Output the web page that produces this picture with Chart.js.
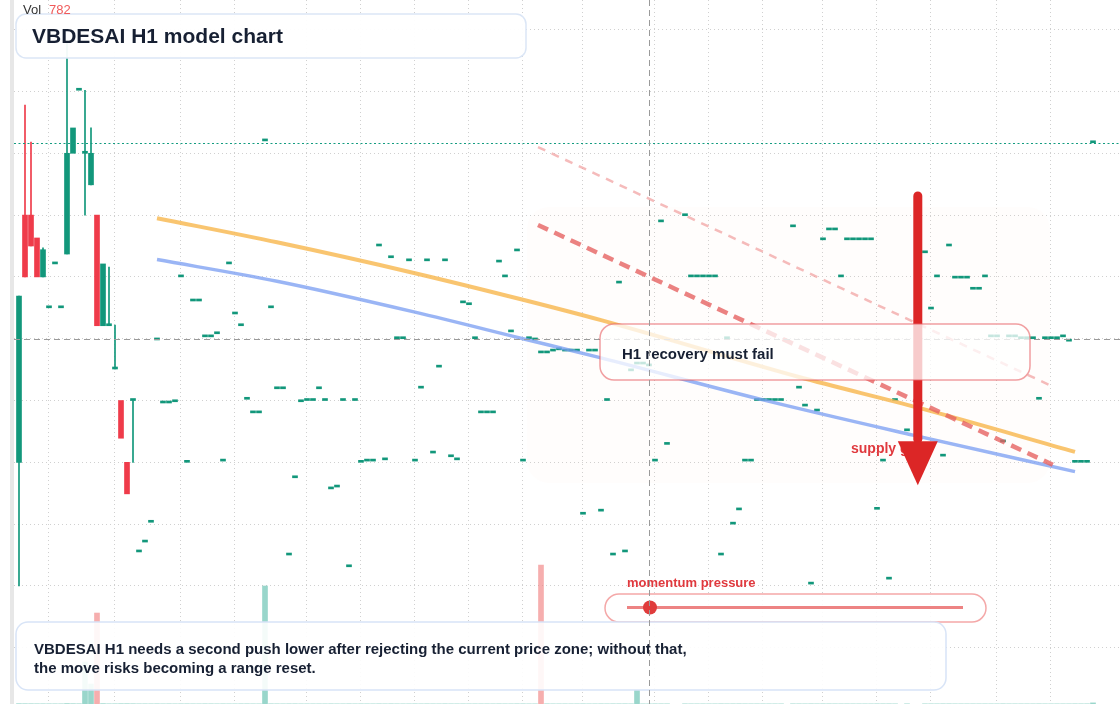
<!DOCTYPE html>
<html lang="en">
<head>
<meta charset="UTF-8">
<title>VBDESAI H1 model chart</title>
<script src="https://cdn.jsdelivr.net/npm/chart.js"></script>
<style>
    html, body { margin: 0; padding: 0; background: #ffffff; }
    #wrap { width: 1120px; height: 704px; position: relative; overflow: hidden; }
</style>
</head>
<body>
<div id="wrap"><canvas id="chart" width="1120" height="704"></canvas></div>

<script>
    // ---- data (one H1 bar per index) ----
    const closes = [
        50.69, 51.00, 51.50, 51.00, 51.44, 50.50, 51.21, 50.50, 53.00, 53.41,
        54.02, 53.00, 53.00, 50.21, 51.21, 50.21, 49.51, 48.39, 47.49, 49.00,
        46.55, 46.71, 47.03, 49.98, 48.96, 48.96, 48.98, 51.00, 48.00, 50.61,
        50.61, 50.03, 50.03, 50.08, 48.02, 51.21, 50.40, 50.21, 49.02, 48.80,
        48.80, 53.20, 50.50, 49.19, 49.19, 46.50, 47.75, 48.98, 49.00, 49.00,
        49.19, 49.00, 47.57, 47.60, 49.00, 46.31, 49.00, 48.00, 48.02, 48.02,
        51.50, 48.04, 51.31, 50.00, 50.00, 51.26, 48.02, 49.20, 51.26, 48.15,
        49.54, 51.26, 48.09, 48.04, 50.58, 50.55, 50.00, 48.80, 48.80, 48.80,
        51.24, 51.00, 50.11, 51.42, 48.02, 50.00, 49.98, 49.77, 49.77, 49.80,
        49.82, 49.80, 49.80, 49.80, 47.16, 49.80, 49.80, 47.21, 49.00, 46.50,
        50.90, 46.55, 49.48, 49.59, 49.59, 49.56, 48.02, 51.89, 48.29, null,
        null, 51.99, 51.00, 51.00, 51.00, 51.00, 51.00, 46.50, 50.00, 47.00,
        47.23, 48.02, 48.02, 49.00, 49.00, 49.00, 49.00, 49.00, null, 51.81,
        49.20, 48.91, 46.03, 48.83, 51.60, 51.76, 51.76, 51.00, 51.60, 51.60,
        51.60, 51.60, 51.60, 47.24, 48.02, 46.11, 49.00, null, 48.51, null,
        null, 51.39, 50.48, 51.00, 48.10, 51.50, 50.98, 50.98, 50.98, 50.80,
        50.80, 51.00, 50.03, 50.03, 48.33, 50.03, 50.03, 50.00, 50.00, 50.00,
        49.02, 50.00, 50.00, 50.00, 50.03, 49.96, 48.00, 48.00, 48.00, 53.17
    ];
    // opens / highs / lows only for the first bars; later bars are flat (open = high = low = close)
    const opens = [48.00, 52.00, 52.00, 51.63, 51.00, null, null, null, 51.37, 53.00,
                   null, null, 52.49, 52.00, 50.21, null, null, 49.00, 48.00, null];
    const highs = [null, 53.78, 53.18, null, 51.47, null, null, null, 54.83, null,
                   null, 54.02, 53.41, null, null, 51.16, 50.22, null, null, null];
    const lows  = [46.00, null, null, null, null, null, null, null, null, null,
                   null, 52.00, null, null, null, null, null, null, null, 48.00];
    const volumes = [
        210, 180, 160, 140, 130, 120, 100, 110, 290, 200,
        150, 29800, 14200, 64600, 240, 130, 140, 190, 200, 160,
        110, 100, 95, 120, 90, 100, 85, 110, 100, 90,
        80, 100, 95, 80, 105, 90, 85, 100, 110, 90,
        80, 83800, 120, 95, 90, 100, 100, 85, 80, 80,
        90, 75, 100, 90, 85, 100, 80, 95, 90, 80,
        110, 85, 100, 80, 70, 90, 100, 80, 95, 90,
        85, 100, 90, 80, 90, 80, 75, 85, 80, 80,
        95, 85, 80, 100, 100, 75, 80, 98600, 120, 85,
        80, 75, 70, 80, 110, 80, 75, 105, 90, 110,
        100, 115, 90, 9900, 85, 90, 100, 105, 95, null,
        null, 100, 90, 85, 80, 80, 80, 110, 90, 105,
        100, 90, 85, 90, 80, 80, 75, 80, null, 100,
        95, 90, 110, 90, 100, 95, 90, 85, 90, 80,
        80, 80, 85, 100, 95, 110, 90, null, 100, null,
        null, 105, 95, 90, 100, 100, 85, 80, 80, 90,
        85, 90, 80, 80, 100, 75, 80, 80, 85, 80,
        95, 80, 80, 75, 85, 90, 100, 95, 100, 782
    ];
    const redVolIdx = [13, 87];

    // tick positions (gridlines only, labels are off screen)
    const gridIdx = [5, 16, 27, 36, 48, 57, 66, 75, 84, 94, 106, 115, 124, 134, 143, 152, 163, 172];
    const priceTicks = [45, 46, 47, 48, 49, 50, 51, 52, 53, 54, 55];

    // model curves
    const orangeIdx = [23, 43, 66, 84, 97, 130, 150, 176];
    const orangeVals = [51.95, 51.56, 51.06, 50.63, 50.30, 49.38, 48.88, 48.17];
    const blueIdx = [23, 43, 66, 84, 97, 124, 149, 176];
    const blueVals = [51.28, 50.93, 50.43, 50.00, 49.69, 49.01, 48.44, 47.85];
    // channel lines
    const supplyIdx = [86.5, 172.3];
    const supplyVals = [51.84, 47.96];
    const upperIdx = [86.5, 172.2];
    const upperVals = [53.10, 49.23];

    const crossIdx = 105;
    const crossPrice = 50;
    const lastPrice = 53.17;
    const lastVol = 782;
    const arrowIdx = 149.8;
    const arrowFrom = 52.31;
    const arrowTo = 47.63;

    const UP = '#12977b';
    const DOWN = '#ef3b4a';
    const FONT = '"Liberation Sans", Arial, sans-serif';

    // build the floating-bar rows
    const bodies = [], wicks = [], vols = [];
    closes.forEach((c, i) => {
        if (c === null) return;
        const o = opens[i] ?? c;
        const up = c >= o;
        bodies.push({x: i, y: [o, c], up: up});
        if (highs[i] != null || lows[i] != null) {
            wicks.push({x: i, y: [lows[i] ?? Math.min(o, c), highs[i] ?? Math.max(o, c)], up: up});
        }
        if (volumes[i] != null) {
            vols.push({x: i, y: volumes[i], red: redVolIdx.includes(i)});
        }
    });
    const toPts = (xs, ys) => xs.map((x, k) => ({x: x, y: ys[k]}));

    function roundBox(ctx, x, y, w, h, r, fill, stroke, lw) {
        ctx.beginPath();
        ctx.roundRect(x, y, w, h, r);
        if (fill) { ctx.fillStyle = fill; ctx.fill(); }
        if (stroke) { ctx.lineWidth = lw; ctx.strokeStyle = stroke; ctx.stroke(); }
    }

    const overlay = {
        id: 'overlay',
        beforeDatasetsDraw(chart) {
            const ctx = chart.ctx;
            ctx.save();
            // faint zone behind the setup
            roundBox(ctx, 527, 207, 523, 276, 22, 'rgba(245, 205, 175, 0.045)');
            ctx.restore();
        },
        afterDatasetsDraw(chart) {
            const {ctx, chartArea: a, scales: {x, y}} = chart;
            ctx.save();
            // last price line
            ctx.strokeStyle = '#139c80';
            ctx.lineWidth = 1;
            ctx.setLineDash([2, 2.5]);
            const ly = Math.round(y.getPixelForValue(lastPrice)) + 0.5;
            ctx.beginPath(); ctx.moveTo(a.left, ly); ctx.lineTo(a.right, ly); ctx.stroke();
            // horizontal crosshair
            ctx.strokeStyle = '#9a9a9a';
            ctx.setLineDash([6, 4]);
            const cy = Math.round(y.getPixelForValue(crossPrice)) + 0.5;
            ctx.beginPath(); ctx.moveTo(a.left, cy); ctx.lineTo(a.right, cy); ctx.stroke();
            ctx.restore();
        },
        afterDraw(chart) {
            const {ctx, chartArea: a, scales: {x, y}} = chart;
            ctx.save();
            // left strip
            ctx.fillStyle = '#e7e7e7';
            ctx.fillRect(10, 0, 4, chart.height);

            // supply label, then the arrow over it
            ctx.textBaseline = 'middle';
            ctx.font = 'bold 14px ' + FONT;
            ctx.fillStyle = '#e0393e';
            ctx.fillText('supply gate', 851, 449.5);

            const ax = x.getPixelForValue(arrowIdx);
            const top = y.getPixelForValue(arrowFrom);
            const tip = y.getPixelForValue(arrowTo);
            ctx.strokeStyle = '#dc2626';
            ctx.lineWidth = 9;
            ctx.lineCap = 'round';
            ctx.beginPath(); ctx.moveTo(ax, top); ctx.lineTo(ax, tip - 46); ctx.stroke();
            ctx.lineCap = 'butt';
            ctx.fillStyle = '#dc2626';
            ctx.beginPath();
            ctx.moveTo(ax - 20, tip - 44); ctx.lineTo(ax + 20, tip - 44); ctx.lineTo(ax, tip);
            ctx.closePath(); ctx.fill();

            // callout
            roundBox(ctx, 600, 324, 430, 56, 14, 'rgba(255,255,255,0.76)', 'rgba(232, 96, 100, 0.6)', 1.5);
            ctx.font = 'bold 15px ' + FONT;
            ctx.fillStyle = '#172033';
            ctx.fillText('H1 recovery must fail', 622, 354.5);

            // momentum slider
            ctx.font = 'bold 13px ' + FONT;
            ctx.fillStyle = '#e0393e';
            ctx.fillText('momentum pressure', 627, 583);
            roundBox(ctx, 605, 594, 381, 28, 14, 'rgba(255,255,255,0.88)', 'rgba(236, 110, 110, 0.6)', 1.5);
            ctx.strokeStyle = 'rgba(232, 100, 100, 0.8)';
            ctx.lineWidth = 3;
            ctx.beginPath(); ctx.moveTo(627, 607.5); ctx.lineTo(963, 607.5); ctx.stroke();
            ctx.fillStyle = '#e03c3c';
            ctx.beginPath(); ctx.arc(650, 607.5, 7, 0, Math.PI * 2); ctx.fill();

            // title
            roundBox(ctx, 16, 14, 510, 44, 10, 'rgba(255,255,255,0.95)', '#dbe6f6', 1.5);
            ctx.font = 'bold 21px ' + FONT;
            ctx.fillStyle = '#172033';
            ctx.fillText('VBDESAI H1 model chart', 32, 37.5);

            // volume readout
            ctx.font = '13px ' + FONT;
            ctx.fillStyle = '#333333';
            ctx.fillText('Vol', 23, 10);
            ctx.fillStyle = '#f05a5a';
            ctx.fillText(String(lastVol), 49, 10);

            // note at the bottom
            roundBox(ctx, 16, 622, 930, 68, 12, 'rgba(255,255,255,0.9)', '#d8e4f7', 1.5);
            ctx.font = 'bold 15px ' + FONT;
            ctx.fillStyle = '#172033';
            ctx.fillText('VBDESAI H1 needs a second push lower after rejecting the current price zone; without that,', 34, 649.5);
            ctx.fillText('the move risks becoming a range reset.', 34, 668.5);

            // vertical crosshair on top
            ctx.strokeStyle = '#9a9a9a';
            ctx.lineWidth = 1;
            ctx.setLineDash([6, 4]);
            const cx = Math.round(x.getPixelForValue(crossIdx)) + 0.5;
            ctx.beginPath(); ctx.moveTo(cx, a.top); ctx.lineTo(cx, a.bottom); ctx.stroke();
            ctx.restore();
        }
    };

    const gridStyle = {color: '#d0d0d0', lineWidth: 1, drawTicks: false, offset: false};
    const borderStyle = {display: false, dash: [1, 3]};

    new Chart(document.getElementById('chart'), {
        type: 'bar',
        data: {
            datasets: [
                {
                    type: 'line', data: toPts(upperIdx, upperVals), order: 1,
                    borderColor: 'rgba(240, 150, 150, 0.65)', borderWidth: 2.5, borderDash: [8, 7],
                    pointRadius: 0, fill: false
                },
                {
                    type: 'line', data: toPts(supplyIdx, supplyVals), order: 1,
                    borderColor: 'rgba(230, 95, 95, 0.78)', borderWidth: 4.5, borderDash: [11, 7],
                    pointRadius: 0, fill: false
                },
                {
                    type: 'line', data: toPts(orangeIdx, orangeVals), order: 2,
                    borderColor: 'rgba(248, 184, 80, 0.82)', borderWidth: 4,
                    cubicInterpolationMode: 'monotone', pointRadius: 0, fill: false
                },
                {
                    type: 'line', data: toPts(blueIdx, blueVals), order: 2,
                    borderColor: 'rgba(120, 156, 242, 0.75)', borderWidth: 3.5,
                    cubicInterpolationMode: 'monotone', pointRadius: 0, fill: false
                },
                {
                    data: bodies, order: 3, grouped: false, barThickness: 5, minBarLength: 2,
                    backgroundColor: c => c.raw.up ? UP : DOWN, borderWidth: 0
                },
                {
                    data: wicks, order: 4, grouped: false, barThickness: 1,
                    backgroundColor: c => c.raw.up ? UP : DOWN, borderWidth: 0
                },
                {
                    data: vols, order: 5, grouped: false, barThickness: 5, yAxisID: 'yv',
                    backgroundColor: c => c.raw.red ? 'rgba(240, 120, 120, 0.6)' : 'rgba(70, 180, 160, 0.55)',
                    borderWidth: 0
                }
            ]
        },
        options: {
            responsive: false,
            animation: false,
            devicePixelRatio: 1,
            layout: {padding: {left: 14, right: 0, top: 0, bottom: 0}},
            plugins: {legend: {display: false}, tooltip: {enabled: false}},
            scales: {
                x: {
                    type: 'linear', min: -0.833, max: 183.5, offset: false,
                    afterBuildTicks: s => { s.ticks = gridIdx.map(v => ({value: v})); },
                    ticks: {display: false}, grid: gridStyle, border: borderStyle
                },
                y: {
                    type: 'linear', position: 'left', min: 44.09, max: 55.48,
                    afterBuildTicks: s => { s.ticks = priceTicks.map(v => ({value: v})); },
                    ticks: {display: false}, grid: gridStyle, border: borderStyle
                },
                yv: {
                    type: 'linear', display: false, min: 0, max: 500000
                }
            }
        },
        plugins: [overlay]
    });
</script>
</body>
</html>
